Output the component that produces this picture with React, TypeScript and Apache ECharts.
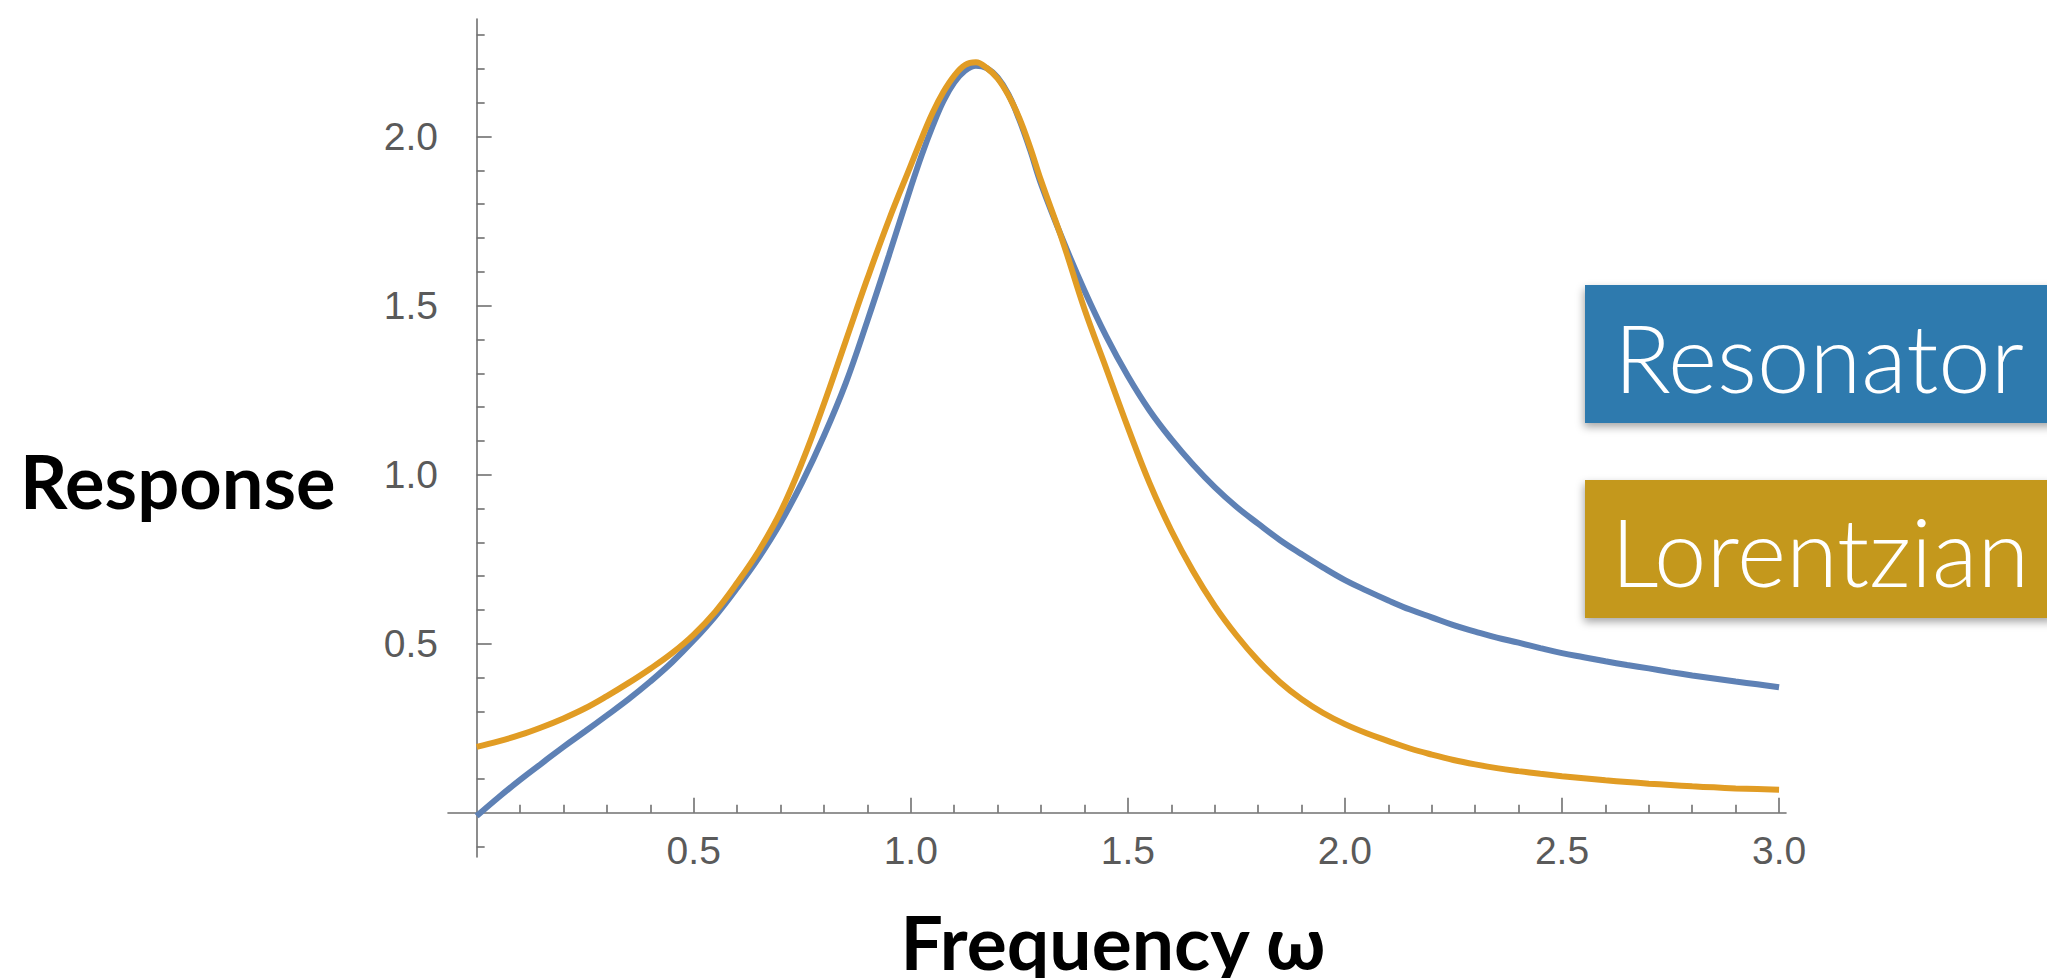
import React, { useEffect, useRef } from 'react';
import * as echarts from 'echarts';

// Frequency grid (0.05 steps, 0.025 near the peak) and responses
const omega = [
  0, 0.05, 0.1, 0.15, 0.2, 0.25, 0.3, 0.35, 0.4, 0.45, 0.5, 0.55, 0.6, 0.65, 0.7, 0.75, 0.8, 0.85, 0.9, 0.95,
  1.0, 1.025, 1.05, 1.075, 1.1, 1.125, 1.15, 1.175, 1.2, 1.225, 1.25, 1.275, 1.3,
  1.35, 1.4, 1.45, 1.5, 1.55, 1.6, 1.65, 1.7, 1.75, 1.8, 1.85, 1.9, 1.95,
  2.0, 2.05, 2.1, 2.15, 2.2, 2.25, 2.3, 2.35, 2.4, 2.45, 2.5, 2.55, 2.6, 2.65, 2.7, 2.75, 2.8, 2.85, 2.9, 2.95, 3.0,
];
const resonator = [
  -0.01, 0.045, 0.097, 0.146, 0.195, 0.241, 0.288, 0.336, 0.388, 0.445, 0.51, 0.582, 0.665, 0.755, 0.858, 0.978, 1.115, 1.27, 1.455, 1.65,
  1.85, 1.945, 2.03, 2.105, 2.16, 2.195, 2.21, 2.203, 2.175, 2.125, 2.05, 1.96, 1.86,
  1.695, 1.545, 1.41, 1.292, 1.19, 1.105, 1.03, 0.963, 0.905, 0.855, 0.807, 0.765, 0.725,
  0.688, 0.657, 0.628, 0.601, 0.578, 0.555, 0.536, 0.518, 0.503, 0.487, 0.472, 0.46, 0.448, 0.437, 0.427, 0.416, 0.406, 0.397, 0.388, 0.38, 0.371,
];
const lorentzian = [
  0.195, 0.211, 0.23, 0.253, 0.279, 0.309, 0.345, 0.384, 0.426, 0.472, 0.527, 0.595, 0.68, 0.775, 0.89, 1.038, 1.21, 1.395, 1.58, 1.755,
  1.915, 1.995, 2.07, 2.132, 2.18, 2.212, 2.22, 2.203, 2.172, 2.122, 2.055, 1.968, 1.87,
  1.69, 1.49, 1.315, 1.14, 0.975, 0.835, 0.715, 0.612, 0.525, 0.45, 0.387, 0.336, 0.295,
  0.262, 0.235, 0.212, 0.19, 0.172, 0.156, 0.143, 0.132, 0.123, 0.115, 0.108, 0.102, 0.096, 0.091, 0.086, 0.082, 0.078, 0.075, 0.072, 0.07, 0.068,
];

const seriesNames = ['Resonator', 'Lorentzian'];
const xTitle = 'Frequency ω';
const yTitle = 'Response';

const xRange = [-0.066, 3.016];
const yRange = [-0.131, 2.348];
const xMajorTicks = [0.5, 1.0, 1.5, 2.0, 2.5, 3.0];
const xMinorTicks = [0.1, 0.2, 0.3, 0.4, 0.6, 0.7, 0.8, 0.9, 1.1, 1.2, 1.3, 1.4, 1.6, 1.7, 1.8, 1.9, 2.1, 2.2, 2.3, 2.4, 2.6, 2.7, 2.8, 2.9];
const yMajorTicks = [0.5, 1.0, 1.5, 2.0];
const yMinorTicks = [-0.1, 0.1, 0.2, 0.3, 0.4, 0.6, 0.7, 0.8, 0.9, 1.1, 1.2, 1.3, 1.4, 1.6, 1.7, 1.8, 1.9, 2.1, 2.2, 2.3];

const AXIS_COLOR = '#707070';
const LABEL_COLOR = '#5a5a5a';
const LINE_BLUE = '#5E81B5';
const LINE_ORANGE = '#E19C24';
const BOX_BLUE = '#2E7AAE';
const BOX_GOLD = '#C4981C';

export default function App() {
  const ref = useRef<HTMLDivElement>(null);

  useEffect(() => {
    if (!ref.current) return;
    const chart = echarts.init(ref.current, undefined, { renderer: 'svg' });
    const tickLine = { color: AXIS_COLOR, width: 1.6 };
    const labelStyle = {
      color: LABEL_COLOR,
      fontSize: 39,
      fontFamily: '"Liberation Sans", Arial, sans-serif',
      formatter: (v: number) => v.toFixed(1),
    };
    const option: any = {
      animation: false,
      backgroundColor: '#ffffff',
      grid: { left: 448, top: 19, width: 1338, height: 838, containLabel: false, outerBoundsMode: 'none' },
      xAxis: [
        {
          type: 'value', min: xRange[0], max: xRange[1],
          axisLine: { show: true, onZero: true, onZeroAxisIndex: 0, lineStyle: tickLine },
          axisTick: { show: true, inside: true, length: 15, customValues: xMajorTicks, lineStyle: tickLine },
          minorTick: { show: false },
          axisLabel: { show: true, customValues: xMajorTicks, margin: -26, ...labelStyle },
          splitLine: { show: false },
        },
        {
          type: 'value', min: xRange[0], max: xRange[1],
          axisLine: { show: false, onZero: true, onZeroAxisIndex: 0 },
          axisTick: { show: true, inside: false, length: 8, customValues: xMinorTicks, lineStyle: tickLine },
          minorTick: { show: false },
          axisLabel: { show: false },
          splitLine: { show: false },
        },
      ],
      yAxis: [
        {
          type: 'value', min: yRange[0], max: yRange[1],
          axisLine: { show: true, onZero: true, onZeroAxisIndex: 0, lineStyle: tickLine },
          axisTick: { show: true, inside: true, length: 15, customValues: yMajorTicks, lineStyle: tickLine },
          minorTick: { show: false },
          axisLabel: { show: true, customValues: yMajorTicks, margin: 10, ...labelStyle },
          splitLine: { show: false },
        },
        {
          type: 'value', min: yRange[0], max: yRange[1],
          axisLine: { show: false, onZero: true, onZeroAxisIndex: 0 },
          axisTick: { show: true, inside: false, length: 8, customValues: yMinorTicks, lineStyle: tickLine },
          minorTick: { show: false },
          axisLabel: { show: false },
          splitLine: { show: false },
        },
      ],
      series: [
        {
          type: 'line', name: seriesNames[0], xAxisIndex: 0, yAxisIndex: 0,
          data: omega.map((w, i) => [w, resonator[i]]),
          smooth: 0.4, showSymbol: false, symbol: 'none', clip: false,
          lineStyle: { color: LINE_BLUE, width: 6 }, itemStyle: { color: LINE_BLUE }, z: 3,
        },
        {
          type: 'line', name: seriesNames[1], xAxisIndex: 0, yAxisIndex: 0,
          data: omega.map((w, i) => [w, lorentzian[i]]),
          smooth: 0.4, showSymbol: false, symbol: 'none', clip: false,
          lineStyle: { color: LINE_ORANGE, width: 6 }, itemStyle: { color: LINE_ORANGE }, z: 4,
        },
      ],
      graphic: [
        {
          type: 'text', x: 20, y: 480,
          style: { text: yTitle, fill: '#000', fontFamily: 'Lato', fontWeight: 'bold', fontSize: 74, align: 'left', textAlign: 'left', verticalAlign: 'middle', textVerticalAlign: 'middle' },
        },
        {
          type: 'text', x: 1113, y: 941,
          style: { text: xTitle, fill: '#000', fontFamily: 'Lato', fontWeight: 'bold', fontSize: 75, align: 'center', textAlign: 'center', verticalAlign: 'middle', textVerticalAlign: 'middle' },
        },
        {
          type: 'rect', shape: { x: 1585, y: 285, width: 470, height: 138 },
          style: { fill: BOX_BLUE, shadowBlur: 8, shadowOffsetX: -1, shadowOffsetY: 4, shadowColor: 'rgba(0,0,0,0.35)' },
        },
        {
          type: 'text', x: 1614, y: 356,
          style: { text: seriesNames[0], fill: '#fff', fontFamily: 'Lato', fontWeight: 300, fontSize: 94, align: 'left', textAlign: 'left', verticalAlign: 'middle', textVerticalAlign: 'middle' },
        },
        {
          type: 'rect', shape: { x: 1585, y: 480, width: 470, height: 138 },
          style: { fill: BOX_GOLD, shadowBlur: 8, shadowOffsetX: -1, shadowOffsetY: 4, shadowColor: 'rgba(0,0,0,0.35)' },
        },
        {
          type: 'text', x: 1611, y: 550,
          style: { text: seriesNames[1], fill: '#fff', fontFamily: 'Lato', fontWeight: 300, fontSize: 94, align: 'left', textAlign: 'left', verticalAlign: 'middle', textVerticalAlign: 'middle' },
        },
      ],
    };
    chart.setOption(option);
    return () => chart.dispose();
  }, []);

  return (
    <div
      ref={ref}
      style={{ position: 'absolute', left: 0, top: 0, width: 2047, height: 978, background: '#fff' }}
    />
  );
}
